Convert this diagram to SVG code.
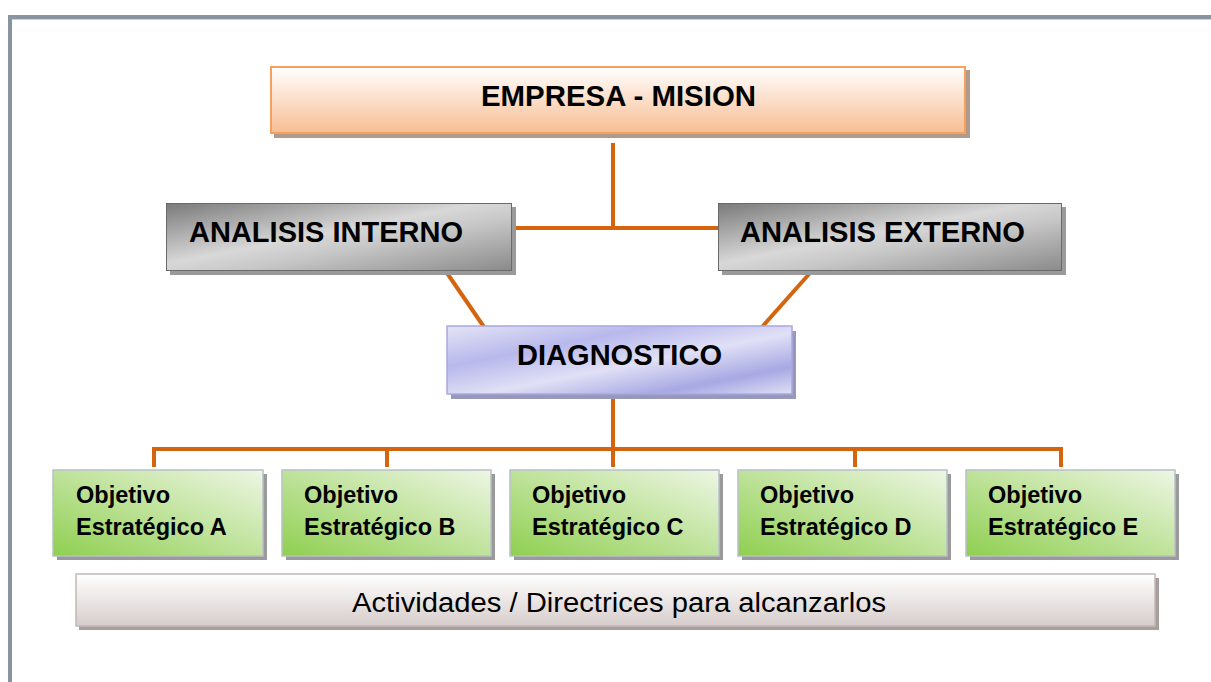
<svg xmlns="http://www.w3.org/2000/svg" width="1211" height="682" viewBox="0 0 1211 682">
<defs>
<linearGradient id="gOr" x1="0" y1="0" x2="0" y2="1"><stop offset="0" stop-color="#ffffff"/><stop offset="1" stop-color="#f7bd92"/></linearGradient>
<linearGradient id="gGr" x1="0" y1="0" x2="1" y2="1"><stop offset="0" stop-color="#7a7a7a"/><stop offset="0.45" stop-color="#d8d8d8"/><stop offset="0.6" stop-color="#c8c8c8"/><stop offset="1" stop-color="#8a8a8a"/></linearGradient>
<linearGradient id="gPu" x1="0" y1="0" x2="1" y2="1"><stop offset="0" stop-color="#e4e4f6"/><stop offset="0.3" stop-color="#b8b8ec"/><stop offset="0.55" stop-color="#e0e0f6"/><stop offset="0.8" stop-color="#a8a8e4"/><stop offset="1" stop-color="#e0e0f6"/></linearGradient>
<linearGradient id="gGn" x1="0" y1="1" x2="1" y2="0"><stop offset="0" stop-color="#8fcf50"/><stop offset="1" stop-color="#eef6e4"/></linearGradient>
<linearGradient id="gAc" x1="0" y1="0" x2="0" y2="1"><stop offset="0" stop-color="#ffffff"/><stop offset="1" stop-color="#d6cdcb"/></linearGradient>
<style>
.t{font-family:"Liberation Sans",Arial,sans-serif;font-weight:bold;fill:#000}
.o{font-family:"Liberation Sans",Arial,sans-serif;font-weight:bold;fill:#000;font-size:23.5px}
.c{stroke:#d4650e;stroke-width:4;fill:none}
.sd{fill:#9a9a9a}
.ob{fill:url(#gGn);stroke:#b8c0c8;stroke-width:1.5}
</style>
</defs>
<rect x="8" y="15" width="1210" height="4" fill="#8a94a0"/>
<rect x="8" y="15" width="4" height="670" fill="#8a94a0"/>
<rect x="12" y="19" width="1199" height="1" fill="#cdd3da"/>
<g id="connectors">
<polyline class="c" points="613,143 613,228"/>
<polyline class="c" points="512,228 718,228"/>
<line class="c" x1="447" y1="273" x2="484" y2="327"/>
<line class="c" x1="810" y1="273" x2="762" y2="327"/>
<polyline class="c" points="613,398 613,449"/>
<polyline class="c" points="154,467 154,449 1061,449 1061,467"/>
<line class="c" x1="387" y1="449" x2="387" y2="467"/>
<line class="c" x1="613" y1="449" x2="613" y2="467"/>
<line class="c" x1="855" y1="449" x2="855" y2="467"/>
</g>
<g id="empresa">
<rect x="274" y="70" width="696" height="68" fill="#b09a8c"/>
<rect x="271" y="67" width="694" height="66" fill="url(#gOr)" stroke="#f7a05c" stroke-width="2"/>
<text class="t" x="481" y="106" font-size="29" textLength="275" lengthAdjust="spacingAndGlyphs">EMPRESA - MISION</text>
</g>
<g id="interno">
<rect class="sd" x="170" y="207" width="346" height="68"/>
<rect x="166.5" y="203.5" width="345" height="67" fill="url(#gGr)" stroke="#6a6a6a" stroke-width="1"/>
<text class="t" x="189" y="242" font-size="29" textLength="274" lengthAdjust="spacingAndGlyphs">ANALISIS INTERNO</text>
</g>
<g id="externo">
<rect class="sd" x="722" y="207" width="344" height="68"/>
<rect x="718.5" y="203.5" width="343" height="67" fill="url(#gGr)" stroke="#6a6a6a" stroke-width="1"/>
<text class="t" x="740" y="242" font-size="29" textLength="285" lengthAdjust="spacingAndGlyphs">ANALISIS EXTERNO</text>
</g>
<g id="diagnostico">
<rect x="451" y="331" width="345" height="68" fill="#9898bc"/>
<rect x="447" y="326" width="345" height="68" fill="url(#gPu)" stroke="#a8a8e0" stroke-width="1.5"/>
<text class="t" x="517" y="365" font-size="29" textLength="205" lengthAdjust="spacingAndGlyphs">DIAGNOSTICO</text>
</g>
<g id="objA">
<rect class="sd" x="57" y="474" width="210" height="86"/>
<rect class="ob" x="53" y="470" width="210" height="86"/>
<text class="o" x="76" y="503">Objetivo</text>
<text class="o" x="76" y="535">Estratégico A</text>
</g>
<g id="objB">
<rect class="sd" x="286" y="474" width="209" height="86"/>
<rect class="ob" x="282" y="470" width="209" height="86"/>
<text class="o" x="304" y="503">Objetivo</text>
<text class="o" x="304" y="535">Estratégico B</text>
</g>
<g id="objC">
<rect class="sd" x="514" y="474" width="209" height="86"/>
<rect class="ob" x="510" y="470" width="209" height="86"/>
<text class="o" x="532" y="503">Objetivo</text>
<text class="o" x="532" y="535">Estratégico C</text>
</g>
<g id="objD">
<rect class="sd" x="742" y="474" width="209" height="86"/>
<rect class="ob" x="738" y="470" width="209" height="86"/>
<text class="o" x="760" y="503">Objetivo</text>
<text class="o" x="760" y="535">Estratégico D</text>
</g>
<g id="objE">
<rect class="sd" x="970" y="474" width="209" height="86"/>
<rect class="ob" x="966" y="470" width="209" height="86"/>
<text class="o" x="988" y="503">Objetivo</text>
<text class="o" x="988" y="535">Estratégico E</text>
</g>
<g id="actividades">
<rect x="79" y="578" width="1080" height="52" fill="#a89e9c"/>
<rect x="76" y="574" width="1079" height="52" fill="url(#gAc)" stroke="#c0b8b6" stroke-width="1.5"/>
<text x="352" y="612" font-size="27" textLength="534" lengthAdjust="spacingAndGlyphs" font-family="'Liberation Sans',Arial,sans-serif" fill="#000">Actividades / Directrices para alcanzarlos</text>
</g>
</svg>
